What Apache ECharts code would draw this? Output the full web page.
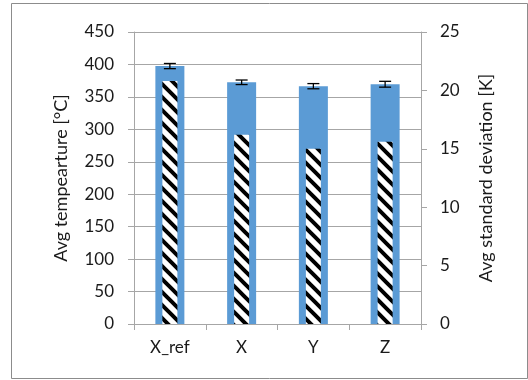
<!DOCTYPE html>
<html>
<head>
<meta charset="utf-8">
<script src="https://cdn.jsdelivr.net/npm/echarts@6/dist/echarts.min.js"></script>
<style>
html,body{margin:0;padding:0;background:#fff;}
#chart{width:528px;height:380px;}
</style>
</head>
<body>
<div id="chart"></div>
<script>
// ---- data ----
var categories = ['X_ref', 'X', 'Y', 'Z'];
var avgTemperature = [397.5, 372.5, 366.5, 369.5];
var tempError = [4, 3.5, 4, 4.5];
var avgStdDev = [20.8, 16.2, 15.0, 15.6];
var leftTicks = {min: 0, max: 450, interval: 50};
var rightTicks = {min: 0, max: 25, interval: 5};

// ---- hatch pattern ----
function makeHatch() {
  var s = 13;
  var c = document.createElement('canvas');
  c.width = s; c.height = s;
  var ctx = c.getContext('2d');
  ctx.fillStyle = '#ffffff';
  ctx.fillRect(0, 0, s, s);
  ctx.strokeStyle = '#000000';
  ctx.lineWidth = 4;
  ctx.beginPath();
  ctx.moveTo(-s, 0); ctx.lineTo(s, 2 * s);
  ctx.moveTo(0, 0); ctx.lineTo(s, s);
  ctx.moveTo(-s, -s); ctx.lineTo(s * 2, s * 2);
  ctx.moveTo(0, -s); ctx.lineTo(2 * s, s);
  ctx.stroke();
  return c;
}

var errData = categories.map(function (c, i) {
  return [i, avgTemperature[i] - tempError[i], avgTemperature[i] + tempError[i]];
});

var gridColor = '#a6a6a6';
var fontFam = 'Lato, "Noto Sans", sans-serif';
var txtColor = '#1a1a1a';

var chart = echarts.init(document.getElementById('chart'), null, {renderer: 'canvas'});
chart.setOption({
  animation: false,
  backgroundColor: '#ffffff',
  graphic: [{
    type: 'rect',
    shape: {x: 11.5, y: 3.5, width: 516, height: 375},
    style: {fill: 'none', stroke: '#8c8c8c', lineWidth: 1},
    z: -1
  }],
  grid: {left: 134, right: 107, top: 32, bottom: 56},
  xAxis: [{
    type: 'category',
    data: categories,
    axisLine: {lineStyle: {color: gridColor}},
    axisTick: {show: true, inside: false, length: 6, lineStyle: {color: gridColor}},
    axisLabel: {color: txtColor, fontFamily: fontFam, fontSize: 17, margin: 15}
  }, {
    type: 'category',
    data: categories,
    show: false
  }],
  yAxis: [{
    type: 'value',
    min: leftTicks.min, max: leftTicks.max, interval: leftTicks.interval,
    name: 'Avg tempearture [°C]',
    nameLocation: 'middle',
    nameGap: 64,
    nameTextStyle: {color: txtColor, fontFamily: fontFam, fontSize: 18},
    axisLine: {show: true, lineStyle: {color: gridColor}},
    axisTick: {show: true, length: 6, lineStyle: {color: gridColor}},
    axisLabel: {color: txtColor, fontFamily: fontFam, fontSize: 17, margin: 20},
    splitLine: {show: true, lineStyle: {color: gridColor, width: 1}}
  }, {
    type: 'value',
    position: 'right',
    min: rightTicks.min, max: rightTicks.max, interval: rightTicks.interval,
    name: 'Avg standard deviation [K]',
    nameLocation: 'middle',
    nameGap: 56,
    nameTextStyle: {color: txtColor, fontFamily: fontFam, fontSize: 18},
    axisLine: {show: true, lineStyle: {color: gridColor}},
    axisTick: {show: true, length: 6, lineStyle: {color: gridColor}},
    axisLabel: {color: txtColor, fontFamily: fontFam, fontSize: 17, margin: 19},
    splitLine: {show: false}
  }],
  series: [{
    name: 'Avg temperature',
    type: 'bar',
    xAxisIndex: 0,
    yAxisIndex: 0,
    barWidth: 29,
    data: avgTemperature,
    itemStyle: {color: '#5b9bd5'},
    z: 2
  }, {
    name: 'Avg standard deviation',
    type: 'bar',
    xAxisIndex: 1,
    yAxisIndex: 1,
    barWidth: 15,
    data: avgStdDev,
    itemStyle: {color: {image: makeHatch(), repeat: 'repeat'}},
    z: 3
  }, {
    name: 'error',
    type: 'custom',
    xAxisIndex: 0,
    yAxisIndex: 0,
    data: errData,
    encode: {x: 0, y: [1, 2]},
    z: 4,
    renderItem: function (params, api) {
      var lo = api.coord([api.value(0), api.value(1)]);
      var hi = api.coord([api.value(0), api.value(2)]);
      var hw = 6;
      var st = {stroke: '#000', lineWidth: 1.3};
      return {
        type: 'group',
        children: [
          {type: 'line', shape: {x1: lo[0], y1: lo[1], x2: hi[0], y2: hi[1]}, style: st},
          {type: 'line', shape: {x1: lo[0] - hw, y1: lo[1], x2: lo[0] + hw, y2: lo[1]}, style: st},
          {type: 'line', shape: {x1: hi[0] - hw, y1: hi[1], x2: hi[0] + hw, y2: hi[1]}, style: st}
        ]
      };
    }
  }]
});
</script>
</body>
</html>
